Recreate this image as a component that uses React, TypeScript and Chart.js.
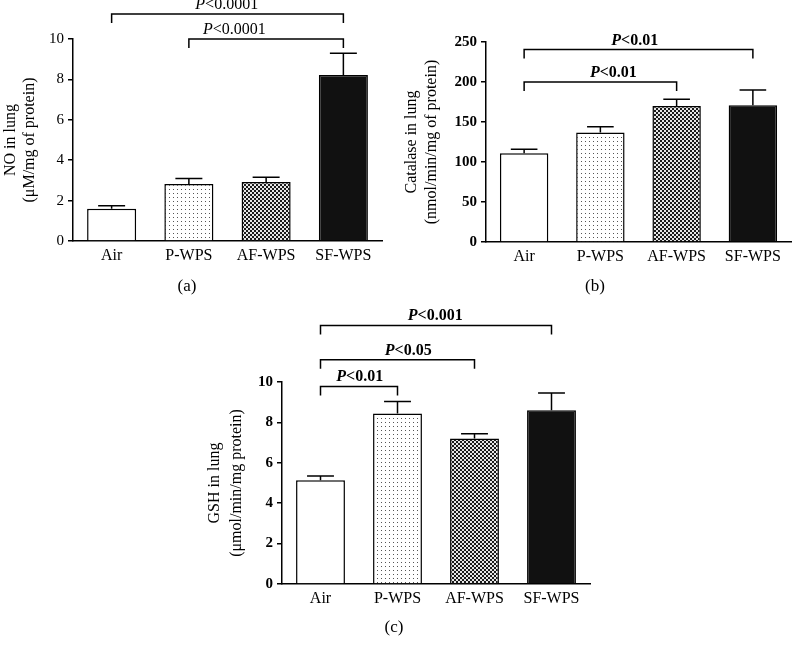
import React, { useEffect, useRef } from 'react';
import { Chart, registerables } from 'chart.js';

Chart.register(...registerables);

const FONT = "'Liberation Serif', 'Times New Roman', serif";

const categories = ['Air', 'P-WPS', 'AF-WPS', 'SF-WPS'];

// Panel (a) NO
const noValues = [1.6, 2.82, 2.92, 8.22];
const noErrors = [0.14, 0.28, 0.24, 1.08];
const noTitle = ['NO in lung', '(\u03BCM/mg of protein)'];

// Panel (b) Catalase
const catalaseValues = [111, 137, 170, 171];
const catalaseErrors = [5, 7, 8.5, 19];
const catalaseTitle = ['Catalase in lung', '(nmol/min/mg of protein)'];

// Panel (c) GSH
const gshValues = [5.14, 8.44, 7.2, 8.6];
const gshErrors = [0.21, 0.6, 0.24, 0.86];
const gshTitle = ['GSH in lung', '(\u03BCmol/min/mg protein)'];

type Bracket = { from: number; to: number; level: number; label: string; labelAt: number };

const noBrackets: Bracket[] = [
  { from: 0, to: 3, level: 11.24, label: '<0.0001', labelAt: 1.49 },
  { from: 1, to: 3, level: 10, label: '<0.0001', labelAt: 1.59 },
];
const catalaseBrackets: Bracket[] = [
  { from: 0, to: 3, level: 240.5, label: '<0.01', labelAt: 1.45 },
  { from: 0, to: 2, level: 200, label: '<0.01', labelAt: 1.17 },
];
const gshBrackets: Bracket[] = [
  { from: 0, to: 3, level: 12.8, label: '<0.001', labelAt: 1.49 },
  { from: 0, to: 2, level: 11.1, label: '<0.05', labelAt: 1.14 },
  { from: 0, to: 1, level: 9.78, label: '<0.01', labelAt: 0.51 },
];

function makeDots(): CanvasPattern | string {
  const c = document.createElement('canvas');
  c.width = 4;
  c.height = 4;
  const g = c.getContext('2d');
  if (!g) return '#eee';
  g.fillStyle = '#ffffff';
  g.fillRect(0, 0, 4, 4);
  g.fillStyle = '#555555';
  g.fillRect(1, 1, 1, 1);
  const p = g.createPattern(c, 'repeat');
  return p || '#eee';
}

function makeChecker(): CanvasPattern | string {
  const c = document.createElement('canvas');
  c.width = 4;
  c.height = 4;
  const g = c.getContext('2d');
  if (!g) return '#777';
  g.fillStyle = '#e6e6e6';
  g.fillRect(0, 0, 4, 4);
  g.fillStyle = '#1a1a1a';
  g.fillRect(0, 0, 2, 2);
  g.fillRect(2, 2, 2, 2);
  const p = g.createPattern(c, 'repeat');
  return p || '#777';
}

type PanelProps = {
  values: number[];
  errors: number[];
  yMax: number;
  yStep: number;
  title: string[];
  titleLineHeight: number;
  titlePad: number;
  brackets: Bracket[];
  panelLabel: string;
  labelX: number;
  labelY: number;
  bold: boolean;
  left: number;
  top: number;
  width: number;
  height: number;
  yAxisWidth: number;
  xAxisHeight: number;
  padTop: number;
  padRight: number;
};

function Panel(props: PanelProps) {
  const ref = useRef<HTMLCanvasElement | null>(null);

  useEffect(() => {
    const canvas = ref.current;
    if (!canvas) return;
    const weight = props.bold ? 'bold' : 'normal';

    const overlay = {
      id: 'overlay',
      afterDatasetsDraw(chart: any) {
        const ctx = chart.ctx;
        const meta = chart.getDatasetMeta(0);
        const ys = chart.scales.y;
        ctx.save();
        ctx.strokeStyle = '#000';
        ctx.lineWidth = 1.5;
        meta.data.forEach((bar: any, i: number) => {
          const x = bar.x;
          const yBase = ys.getPixelForValue(props.values[i]);
          const yTop = ys.getPixelForValue(props.values[i] + props.errors[i]);
          const capW = bar.width * 0.55;
          ctx.beginPath();
          ctx.moveTo(x, yBase);
          ctx.lineTo(x, yTop);
          ctx.moveTo(x - capW / 2, yTop);
          ctx.lineTo(x + capW / 2, yTop);
          ctx.stroke();
        });
        ctx.restore();
      },
      afterDraw(chart: any) {
        const ctx = chart.ctx;
        const xs = chart.scales.x;
        const ys = chart.scales.y;
        ctx.save();
        ctx.strokeStyle = '#000';
        ctx.fillStyle = '#000';
        ctx.lineWidth = 1.5;
        props.brackets.forEach((b) => {
          const x1 = xs.getPixelForValue(b.from);
          const x2 = xs.getPixelForValue(b.to);
          const y = ys.getPixelForValue(b.level);
          ctx.beginPath();
          ctx.moveTo(x1, y + 9);
          ctx.lineTo(x1, y);
          ctx.lineTo(x2, y);
          ctx.lineTo(x2, y + 9);
          ctx.stroke();
          const cx = xs.getPixelForValue(b.labelAt);
          ctx.font = `italic ${weight} 16px ${FONT}`;
          const wP = ctx.measureText('P').width;
          ctx.font = `${weight} 16px ${FONT}`;
          const wR = ctx.measureText(b.label).width;
          const sx = cx - (wP + wR) / 2;
          ctx.textAlign = 'left';
          ctx.textBaseline = 'alphabetic';
          ctx.font = `italic ${weight} 16px ${FONT}`;
          ctx.fillText('P', sx, y - 5);
          ctx.font = `${weight} 16px ${FONT}`;
          ctx.fillText(b.label, sx + wP, y - 5);
        });
        ctx.font = `normal 17px ${FONT}`;
        ctx.textAlign = 'center';
        ctx.textBaseline = 'middle';
        ctx.fillText(props.panelLabel, props.labelX, props.labelY);
        ctx.restore();
      },
    };

    const chart = new Chart(canvas, {
      type: 'bar',
      data: {
        labels: categories,
        datasets: [
          {
            data: props.values,
            backgroundColor: ['#ffffff', makeDots(), makeChecker(), '#111111'] as any,
            borderColor: '#000',
            borderWidth: 1.5,
            categoryPercentage: 1,
            barPercentage: 0.635,
          },
        ],
      },
      options: {
        animation: false,
        responsive: false,
        devicePixelRatio: 1,
        layout: { padding: { top: props.padTop, right: props.padRight, left: 0, bottom: 0 } },
        plugins: { legend: { display: false }, tooltip: { enabled: false } },
        scales: {
          x: {
            grid: { display: false, drawTicks: false },
            border: { display: true, color: '#000', width: 1.5 },
            ticks: {
              color: '#000',
              padding: 5,
              font: { family: FONT, size: 16, weight: 'normal' as any },
            },
            afterFit: (s: any) => {
              s.height = props.xAxisHeight;
            },
          },
          y: {
            min: 0,
            max: props.yMax,
            ticks: {
              stepSize: props.yStep,
              color: '#000',
              padding: 4,
              font: { family: FONT, size: 15, weight: weight as any },
            },
            grid: {
              drawOnChartArea: false,
              drawTicks: true,
              tickLength: 5,
              color: '#000',
              lineWidth: 1.5,
            },
            border: { display: true, color: '#000', width: 1.5 },
            title: {
              display: true,
              text: props.title,
              color: '#000',
              padding: { top: props.titlePad, bottom: 0 },
              font: { family: FONT, size: 16, lineHeight: props.titleLineHeight },
            },
            afterFit: (s: any) => {
              s.width = props.yAxisWidth;
            },
          },
        },
      },
      plugins: [overlay],
    });

    return () => chart.destroy();
  }, []);

  return (
    <canvas
      ref={ref}
      width={props.width}
      height={props.height}
      style={{
        position: 'absolute',
        left: props.left,
        top: props.top,
        width: props.width,
        height: props.height,
      }}
    />
  );
}

export default function App() {
  return (
    <div style={{ position: 'absolute', left: 0, top: 0, width: 794, height: 650, background: '#fff' }}>
      <Panel
        values={noValues}
        errors={noErrors}
        yMax={10}
        yStep={2}
        title={noTitle}
        titleLineHeight={1.19}
        titlePad={1.5}
        brackets={noBrackets}
        panelLabel="(a)"
        labelX={187}
        labelY={287}
        bold={false}
        left={0}
        top={0}
        width={400}
        height={305}
        yAxisWidth={73}
        xAxisHeight={64}
        padTop={39}
        padRight={18}
      />
      <Panel
        values={catalaseValues}
        errors={catalaseErrors}
        yMax={250}
        yStep={50}
        title={catalaseTitle}
        titleLineHeight={1.25}
        titlePad={1.7}
        brackets={catalaseBrackets}
        panelLabel="(b)"
        labelX={195}
        labelY={287}
        bold={true}
        left={400}
        top={0}
        width={394}
        height={305}
        yAxisWidth={86}
        xAxisHeight={63}
        padTop={42}
        padRight={3}
      />
      <Panel
        values={gshValues}
        errors={gshErrors}
        yMax={10}
        yStep={2}
        title={gshTitle}
        titleLineHeight={1.35}
        titlePad={4.2}
        brackets={gshBrackets}
        panelLabel="(c)"
        labelX={194}
        labelY={323}
        bold={true}
        left={200}
        top={305}
        width={420}
        height={345}
        yAxisWidth={82}
        xAxisHeight={66}
        padTop={77}
        padRight={30}
      />
    </div>
  );
}
